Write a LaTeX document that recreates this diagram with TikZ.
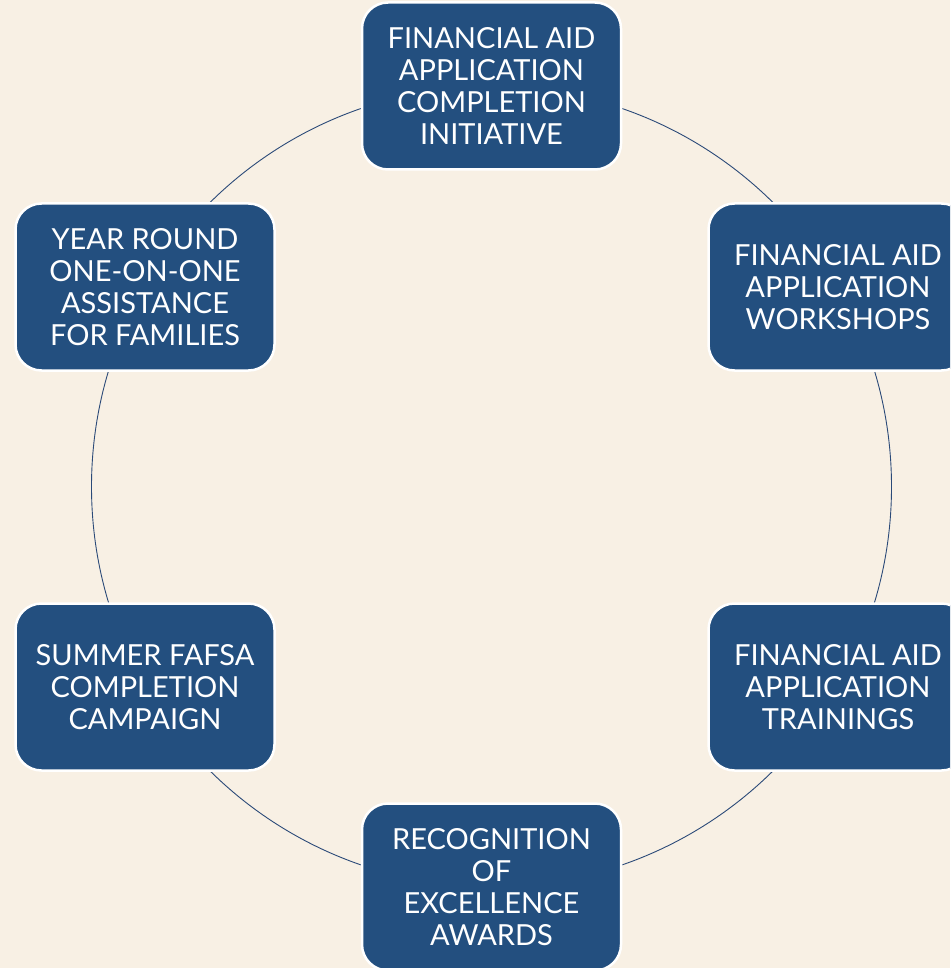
\documentclass[tikz,border=0pt]{standalone}
\usepackage{fontspec}
\setmainfont{Lato}
\definecolor{bgc}{HTML}{F8F0E4}
\definecolor{boxc}{HTML}{234F7F}
\definecolor{linec}{HTML}{2B4A78}
\tikzset{
  stage/.style={draw=white, line width=2.5pt, fill=boxc, rounded corners=26pt,
    minimum width=259pt, minimum height=167pt, inner sep=0pt,
    text=white, align=center, font=\fontsize{29}{32}\selectfont},
  ring/.style={draw=linec, line width=0.9pt}
}
\begin{document}
\begin{tikzpicture}[x=1pt,y=-1pt]
\fill[bgc] (0,0) rectangle (950,968);
\useasboundingbox (0,0) rectangle (950,968);
\clip (0,0) rectangle (950,968);
\coordinate (c) at (491.5,486.7);
\draw[ring] (c) circle[radius=400];
\node[stage] (n1) at (491.5,86) {FINANCIAL AID\\APPLICATION\\COMPLETION\\INITIATIVE};
\node[stage] (n2) at (838,287) {FINANCIAL AID\\APPLICATION\\WORKSHOPS};
\node[stage] (n3) at (838,687) {FINANCIAL AID\\APPLICATION\\TRAININGS};
\node[stage] (n4) at (491.5,887) {RECOGNITION\\OF\\EXCELLENCE\\AWARDS};
\node[stage] (n5) at (145,687) {SUMMER FAFSA\\COMPLETION\\CAMPAIGN};
\node[stage] (n6) at (145,287) {YEAR ROUND\\ONE-ON-ONE\\ASSISTANCE\\FOR FAMILIES};
\end{tikzpicture}
\end{document}
